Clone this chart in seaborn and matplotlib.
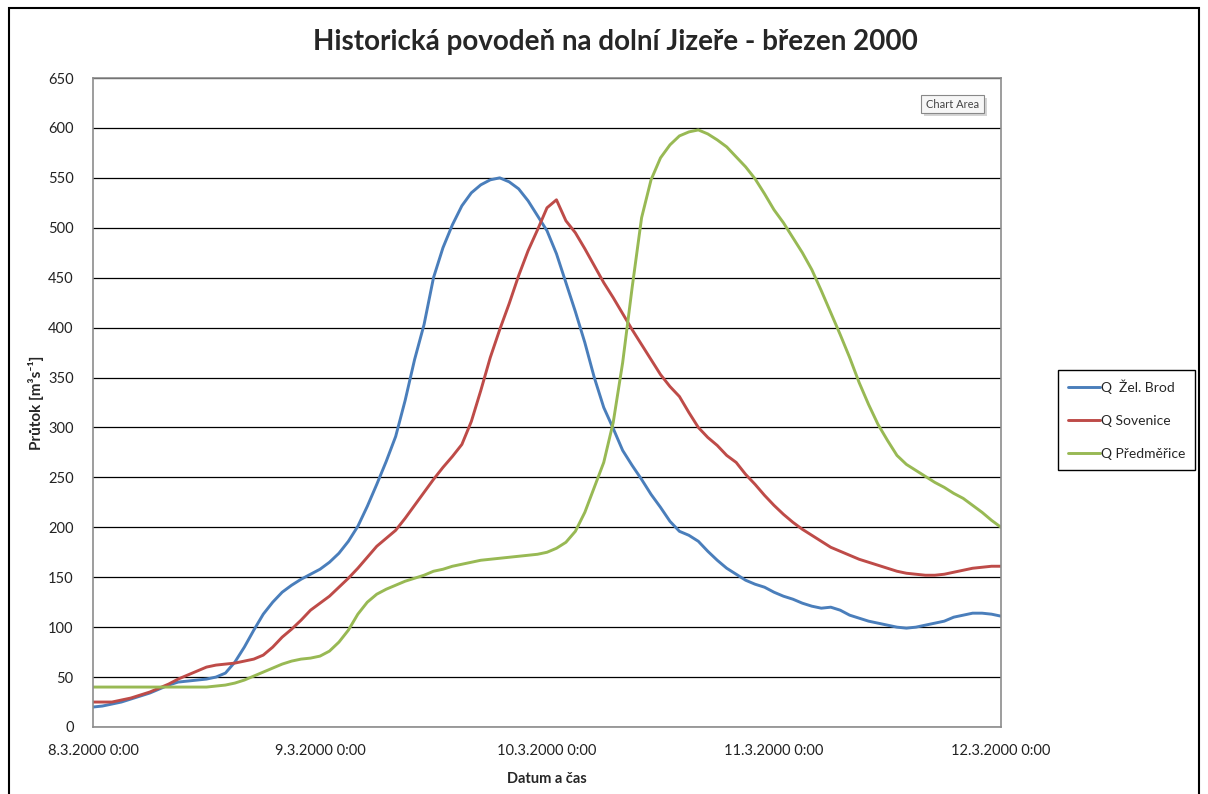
import pandas as pd
import numpy as np
import matplotlib.pyplot as plt
import seaborn as sns
from matplotlib.patches import Rectangle

sns.set_theme(style="white")
plt.rcParams['font.family'] = ['Lato', 'DejaVu Sans']

# hourly discharge readings, 8.3.2000 0:00 .. 12.3.2000 0:00
zel_brod = [20, 21, 23, 25, 28, 31, 34, 38, 42, 45, 46, 47, 48, 50, 54, 65, 80, 97, 113, 125,
            135, 142, 148, 153, 158, 165, 174, 186, 201, 221, 243, 266, 291, 327, 368, 403, 450, 480, 503, 522,
            535, 543, 548, 550, 546, 539, 527, 512, 497, 474, 445, 416, 385, 350, 320, 299, 277, 262, 248, 233,
            220, 206, 196, 192, 186, 176, 167, 159, 153, 147, 143, 140, 135, 131, 128, 124, 121, 119, 120, 117,
            112, 109, 106, 104, 102, 100, 99, 100, 102, 104, 106, 110, 112, 114, 114, 113, 111]
sovenice = [25, 25, 25, 27, 29, 32, 35, 39, 43, 48, 52, 56, 60, 62, 63, 64, 66, 68, 72, 80,
            90, 98, 107, 117, 124, 131, 140, 149, 159, 170, 181, 189, 197, 209, 222, 235, 248, 260, 271, 283,
            306, 337, 370, 398, 424, 452, 477, 498, 520, 528, 507, 495, 479, 462, 445, 430, 414, 398, 383, 368,
            353, 341, 331, 315, 300, 290, 282, 272, 265, 253, 243, 232, 222, 213, 205, 198, 192, 186, 180, 176,
            172, 168, 165, 162, 159, 156, 154, 153, 152, 152, 153, 155, 157, 159, 160, 161, 161]
predmerice = [40, 40, 40, 40, 40, 40, 40, 40, 40, 40, 40, 40, 40, 41, 42, 44, 47, 51, 55, 59,
              63, 66, 68, 69, 71, 76, 85, 97, 113, 125, 133, 138, 142, 146, 149, 152, 156, 158, 161, 163,
              165, 167, 168, 169, 170, 171, 172, 173, 175, 179, 185, 196, 215, 240, 265, 305, 365, 440, 510, 548,
              570, 583, 592, 596, 598, 594, 588, 581, 571, 561, 549, 534, 518, 505, 490, 475, 458, 437, 415, 393,
              370, 345, 323, 303, 287, 272, 263, 257, 251, 245, 240, 234, 229, 222, 215, 207, 200]

series_names = ['Q  Žel. Brod', 'Q Sovenice', 'Q Předměřice']
series_colors = ['#4A7EBB', '#BE4B48', '#98B954']
x_tick_labels = ['8.3.2000 0:00', '9.3.2000 0:00', '10.3.2000 0:00', '11.3.2000 0:00', '12.3.2000 0:00']
y_ticks = list(range(0, 651, 50))

hours = np.arange(len(zel_brod))
df = pd.concat([
    pd.DataFrame({'hod': hours, 'Q': vals, 'stanice': name})
    for name, vals in zip(series_names, [zel_brod, sovenice, predmerice])
])

W, H = 1208, 794
fig = plt.figure(figsize=(W / 100, H / 100), dpi=100)
ax = fig.add_axes([93 / W, 1 - 727 / H, 908 / W, 649 / H])

sns.lineplot(data=df, x='hod', y='Q', hue='stanice', palette=series_colors,
             linewidth=2.1, ax=ax)

ax.set_xlim(0, 96)
ax.set_ylim(0, 650)
ax.set_xticks(np.arange(0, 97, 24))
ax.set_xticklabels(x_tick_labels)
ax.set_yticks(y_ticks)
ax.tick_params(axis='both', length=0, labelsize=10.5, colors='#222222')
ax.tick_params(axis='x', pad=12)
ax.tick_params(axis='y', pad=14)
ax.yaxis.grid(True, color='black', linewidth=0.9)
ax.set_axisbelow(True)
for s in ax.spines.values():
    s.set_color('#8c8c8c')
    s.set_linewidth(1.2)

ax.set_xlabel('Datum a čas', fontsize=10.5, fontweight='bold', labelpad=10)
ax.set_ylabel('Průtok [m³s⁻¹]', fontsize=11, fontweight='bold', labelpad=3)

sns.move_legend(ax, 'upper left', bbox_to_anchor=((1058 - 93) / 908, (727 - 370) / 649),
                title=None, frameon=True, fancybox=False, edgecolor='black', framealpha=1,
                fontsize=10, handlelength=2.3, labelspacing=1.5, borderpad=0.7, handletextpad=0.1,
                borderaxespad=0)
ax.get_legend().get_frame().set_linewidth(1.0)

fig.text(615 / W, 1 - 42 / H, 'Historická povodeň na dolní Jizeře - březen 2000',
         ha='center', va='center', fontsize=20, fontweight='bold')

# screenshot tooltip with its soft shadow
fig.patches.append(Rectangle((924 / W, 1 - 116 / H), 63 / W, 18 / H, transform=fig.transFigure,
                             facecolor='#d4d4d4', edgecolor='none'))
fig.patches.append(Rectangle((921 / W, 1 - 113 / H), 63 / W, 18 / H, transform=fig.transFigure,
                             facecolor='#f6f6f6', edgecolor='#888888', linewidth=0.8))
fig.text(952.5 / W, 1 - 104 / H, 'Chart Area', ha='center', va='center', fontsize=8, color='#444444')

fig.patches.append(Rectangle((9 / W, -0.05), 1190 / W, 1.05 - 8 / H,
                             transform=fig.transFigure, fill=False, edgecolor='black', linewidth=1.5))

fig.savefig('out.png', dpi=100)
